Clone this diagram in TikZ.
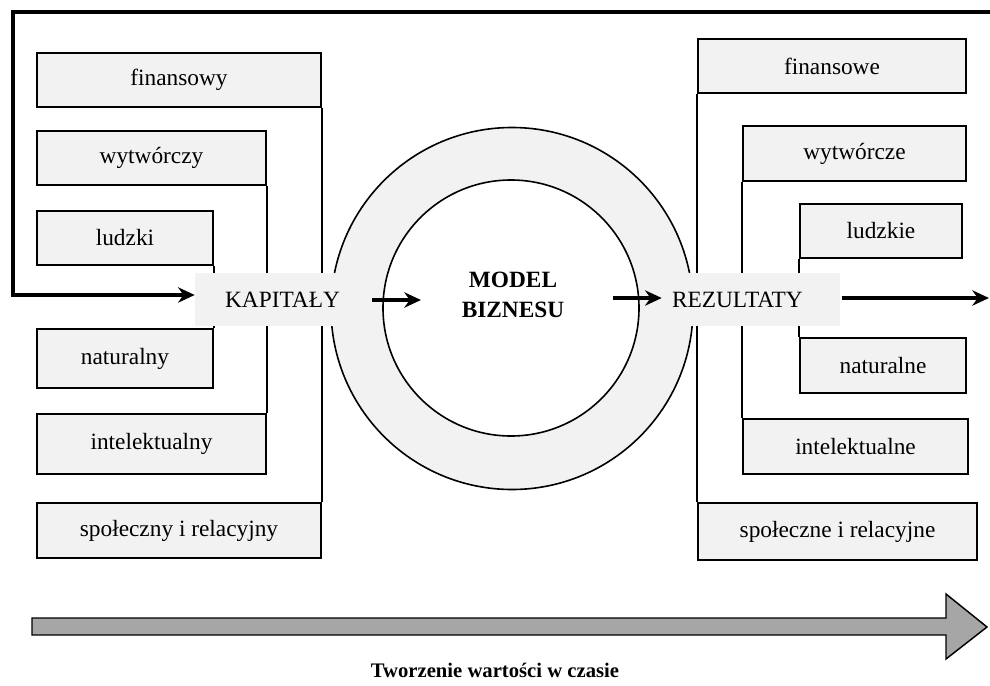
\documentclass[tikz,border=0pt]{standalone}
\usepackage{fontspec}
\setmainfont{Liberation Serif}
\usetikzlibrary{arrows.meta}
\definecolor{boxgray}{HTML}{F2F2F2}
\definecolor{arrowgray}{HTML}{A6A6A6}
\begin{document}
\begin{tikzpicture}[x=0.75pt,y=-0.75pt,
  sz/.style 2 args={minimum width={#1*0.75pt}, minimum height={#2*0.75pt}},
  capbox/.style={draw=black, line width=1.2pt, fill=boxgray, inner sep=0pt,
    font=\fontsize{17.5}{21}\selectfont},
  bigbox/.style={fill=boxgray, inner sep=0pt, font=\fontsize{17.5}{21}\selectfont},
  link/.style={line width=1.2pt},
  ring/.style={draw=black, line width=1.2pt, circle, inner sep=0pt},
  flow/.style={line width=2.6pt, -{Stealth[length=12.5pt,width=11.5pt]}},
  frameline/.style={line width=2.4pt, -{Stealth[length=12.5pt,width=11.5pt]}},
  timearrow/.style={draw=black, line width=1.1pt, fill=arrowgray},
]
\useasboundingbox (0,0) rectangle (990,686);

% ring
\node[ring, fill=boxgray, minimum size={362*0.75pt}] (outer) at (512,308.5) {};
\node[ring, fill=white, minimum size={256*0.75pt}] (inner) at (511,308) {};
\node[font=\bfseries\fontsize{17.5}{22.5}\selectfont, align=center] (model) at (513,294.5) {MODEL\\BIZNESU};

% left boxes
\node[capbox, sz={284}{54}] (lfin) at (179,80) {finansowy};
\node[capbox, sz={229}{54}] (lwyt) at (151.5,158) {wytwórczy};
\node[capbox, sz={176}{54}] (llud) at (125,238) {ludzki};
\node[capbox, sz={176}{59}] (lnat) at (125,358.5) {naturalny};
\node[capbox, sz={229}{60}] (lint) at (151.5,444) {intelektualny};
\node[capbox, sz={284}{55}] (lspo) at (179,530.5) {społeczny i relacyjny};

% right boxes
\node[capbox, sz={268}{54}] (rfin) at (832,66) {finansowe};
\node[capbox, sz={223}{55}] (rwyt) at (854.5,153.5) {wytwórcze};
\node[capbox, sz={162}{54}] (rlud) at (881,231) {ludzkie};
\node[capbox, sz={166}{55}] (rnat) at (883,365.5) {naturalne};
\node[capbox, sz={225}{55}] (rint) at (855.5,446.5) {intelektualne};
\node[capbox, sz={279}{57}] (rspo) at (837.5,531.5) {społeczne i relacyjne};

% vertical links
\draw[link] (lfin.south east) -- (lspo.north east);
\draw[link] (lwyt.south east) -- (lint.north east);
\draw[link] (llud.south east) -- (lnat.north east);
\draw[link] (rfin.south west) -- (rspo.north west);
\draw[link] (rwyt.south west) -- (rint.north west);
\draw[link] (rlud.south west) -- (rnat.north west);

% capital / result boxes
\node[bigbox, sz={175}{53}] (kap) at (282.5,299.5) {KAPITAŁY};
\node[bigbox, minimum height={53*0.75pt}, text width={158*0.75pt}, inner xsep={10*0.75pt}, align=left] (rez) at (751,299.5) {REZULTATY};

% frame line
\coordinate (tr) at (990,12);
\coordinate (tl) at (13,12);
\coordinate (bl) at (13,295);
\draw[frameline] (tr) -- (tl) -- (bl) -- (bl -| kap.west);

% flow arrows
\coordinate (min) at (421,300);
\coordinate (mout) at (613,298);
\coordinate (outend) at (989,298);
\draw[flow] (kap.east |- min) ++(2,0) -- (min);
\draw[flow] (mout) -- (mout -| rez.west);
\draw[flow] (rez.east |- outend) ++(2,0) -- (outend);

% time arrow
\draw[timearrow] (32,618) -- (946,618) -- (946,594) -- (987,627) -- (946,659) -- (946,635) -- (32,635) -- cycle;
\node[font=\bfseries\fontsize{15.5}{18}\selectfont] (title) at (495,670) {Tworzenie wartości w czasie};
\end{tikzpicture}
\end{document}
